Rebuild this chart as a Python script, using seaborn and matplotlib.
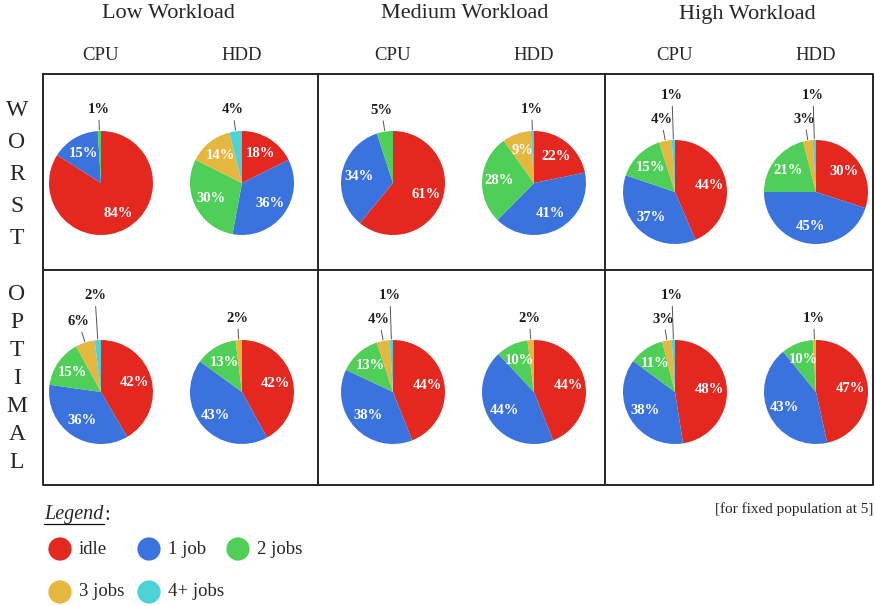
import matplotlib
matplotlib.use("Agg")
import matplotlib.pyplot as plt
import seaborn as sns
import numpy as np

sns.set_theme(style="white")
plt.rcParams['font.family'] = ['Liberation Serif', 'DejaVu Serif']

# data
categories = ['idle', '1 job', '2 jobs', '3 jobs', '4+ jobs']
workloads = ['Low Workload', 'Medium Workload', 'High Workload']
resources = ['CPU', 'HDD']
rows = ['WORST', 'OPTIMAL']

worst_low_cpu = [84, 15, 1, 0, 0]
worst_low_hdd = [18, 36, 30, 14, 4]
worst_med_cpu = [61, 34, 5, 0, 0]
worst_med_hdd = [22, 41, 28, 9, 1]
worst_high_cpu = [44, 37, 15, 4, 1]
worst_high_hdd = [30, 45, 21, 3, 1]

opt_low_cpu = [42, 36, 15, 6, 2]
opt_low_hdd = [42, 43, 13, 2, 0]
opt_med_cpu = [44, 38, 13, 4, 1]
opt_med_hdd = [44, 44, 10, 2, 0]
opt_high_cpu = [48, 38, 11, 3, 1]
opt_high_hdd = [47, 43, 10, 1, 0]

palette = sns.color_palette(['#E5281F', '#3B73DE', '#4FCF57', '#E6B73F', '#4DD3D7'])

W, H = 875, 606
fig = plt.figure(figsize=(W / 100, H / 100), dpi=100)

# background axes in pixel coords for frame, titles, legend
bg = fig.add_axes([0, 0, 1, 1])
bg.set_xlim(0, W)
bg.set_ylim(H, 0)
bg.axis('off')

lc = '#262626'
lw = 1.4
left, right, top, bottom, mid = 43, 873, 74, 485, 270
bg.plot([left, right, right, left, left], [top, top, bottom, bottom, top], color=lc, lw=lw)
bg.plot([left, right], [mid, mid], color=lc, lw=lw)
for x in [318, 605]:
    bg.plot([x, x], [top, bottom], color=lc, lw=lw)

pie_x = [[101, 242], [393, 534], [675, 816]]
title_x = [168, 465, 747]
for i, wl in enumerate(workloads):
    bg.text(title_x[i], 14, wl, ha='center', va='center', fontsize=16)
    for j, res in enumerate(resources):
        bg.text(pie_x[i][j], 55, res, ha='center', va='center', fontsize=13.5)

# vertical row labels
for k, ch in enumerate(rows[0]):
    bg.text(17, 111 + k * 32, ch, ha='center', va='center', fontsize=17)
for k, ch in enumerate(rows[1]):
    bg.text(17, 295 + k * 28, ch, ha='center', va='center', fontsize=17)

grid = [[worst_low_cpu, worst_low_hdd, worst_med_cpu, worst_med_hdd, worst_high_cpu, worst_high_hdd],
        [opt_low_cpu, opt_low_hdd, opt_med_cpu, opt_med_hdd, opt_high_cpu, opt_high_hdd]]
row_y = [[183, 183, 183, 183, 192, 192], [392] * 6]

R = 52  # pie radius in px
S = 240  # axes size in px
lim = S / 2 / R
for r in range(2):
    for c in range(6):
        vals = grid[r][c]
        cx = pie_x[c // 2][c % 2]
        cy = row_y[r][c]
        ax = fig.add_axes([(cx - S / 2) / W, 1 - (cy + S / 2) / H, S / W, S / H])
        ax.axis('off')
        wedges, _ = ax.pie(vals, colors=palette, startangle=90, counterclock=False,
                           wedgeprops=dict(linewidth=0))
        level = 0
        for w, v in zip(wedges, vals):
            if v == 0:
                continue
            th = np.deg2rad((w.theta1 + w.theta2) / 2)
            cs, sn = np.cos(th), np.sin(th)
            if v >= 8:
                ax.text(0.67 * cs, 0.67 * sn, f'{v}%', ha='center', va='center',
                        color='white', fontsize=10.5, fontweight='bold')
            else:
                L = [1.42, 1.86][min(level, 1)]
                level += 1
                ax.plot([1.02 * cs, (L - 0.21) * cs], [1.02 * sn, (L - 0.21) * sn],
                        color='#555555', lw=0.7, clip_on=False)
                ax.text(L * cs, L * sn, f'{v}%', ha='center', va='center',
                        color='#1a1a1a', fontsize=10.5, fontweight='bold')
        ax.set_xlim(-lim, lim)
        ax.set_ylim(-lim, lim)

# legend
bg.text(44, 515, 'Legend', ha='left', va='center', fontsize=14.5, style='italic')
bg.text(104, 515, ':', ha='left', va='center', fontsize=14.5)
bg.plot([44, 104], [524, 524], color='#111111', lw=0.9)
leg_pos = [(0, 0), (1, 0), (2, 0), (0, 1), (1, 1)]
for cat, col, (gx, gy) in zip(categories, palette, leg_pos):
    px = 60 + gx * 89
    py = 549 + gy * 43
    bg.scatter([px], [py], s=280, color=col, edgecolors='none')
    bg.text(px + 19, py, cat, ha='left', va='center', fontsize=13.5)

bg.text(873, 509, '[for fixed population at 5]', ha='right', va='center', fontsize=11)

fig.savefig('out.png', dpi=100)
